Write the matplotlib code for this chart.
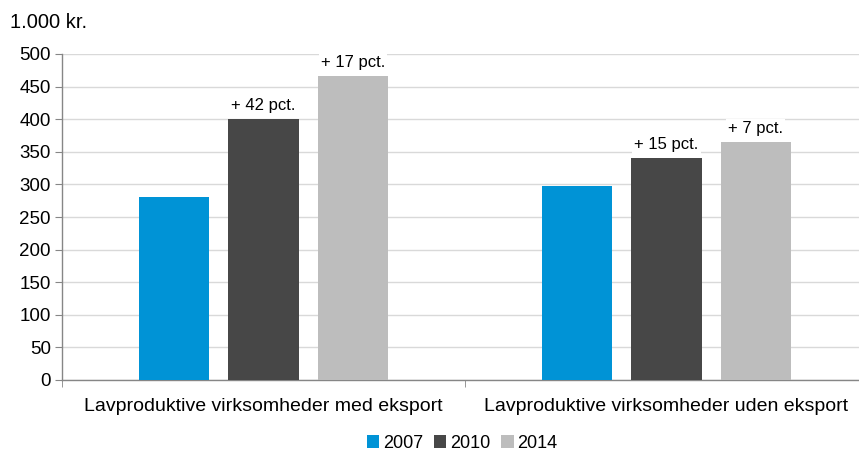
import matplotlib
matplotlib.use("Agg")
import matplotlib.pyplot as plt
import numpy as np

categories = ["Lavproduktive virksomheder med eksport",
              "Lavproduktive virksomheder uden eksport"]
years = ["2007", "2010", "2014"]
values = {
    "2007": [280, 297],
    "2010": [400, 341],
    "2014": [466, 365],
}
labels = {
    "2010": ["+ 42 pct.", "+ 15 pct."],
    "2014": ["+ 17 pct.", "+ 7 pct."],
}
colors = {"2007": "#0093D6", "2010": "#474747", "2014": "#BDBDBD"}

plt.rcParams["font.family"] = ["Liberation Sans", "DejaVu Sans"]

fig = plt.figure(figsize=(8.59, 4.57), dpi=100)
ax = fig.add_axes([62 / 859, 1 - 380 / 457, 806 / 859, 326 / 457])

x = np.arange(len(categories))
width = 0.174
step = 0.222
for i, year in enumerate(years):
    pos = x + (i - 1) * step
    ax.bar(pos, values[year], width, color=colors[year], label=year, zorder=3)
    if year in labels:
        for px, v, txt in zip(pos, values[year], labels[year]):
            ax.text(px, v + 9, txt, ha="center", va="bottom", fontsize=12,
                    color="#000000", zorder=4,
                    bbox=dict(facecolor="white", edgecolor="none", pad=1.5))

ax.set_xlim(-0.5, 1.5)
ax.set_ylim(0, 500)
ax.set_yticks(range(0, 501, 50))
ax.yaxis.grid(True, color="#D9D9D9", linewidth=1, zorder=0)
ax.set_axisbelow(True)

ax.set_xticks(x)
ax.set_xticklabels(categories, fontsize=14)
ax.tick_params(axis="x", length=0, pad=13)
ax.set_xticks([-0.5, 0.5, 1.5], minor=True)
ax.tick_params(axis="x", which="minor", length=5, color="#868686")
ax.tick_params(axis="y", labelsize=13.5, length=5, color="#868686", pad=3)

for side in ["top", "right"]:
    ax.spines[side].set_visible(False)
for side in ["left", "bottom"]:
    ax.spines[side].set_color("#868686")
    ax.spines[side].set_linewidth(1)

fig.text(10 / 859, 1 - 22 / 457, "1.000 kr.", fontsize=14.5, va="center", ha="left")

fig.legend(loc="center", bbox_to_anchor=(462 / 859, 1 - 443 / 457), ncol=3,
           frameon=False, fontsize=13, handlelength=0.7, handleheight=0.7,
           handletextpad=0.2, columnspacing=0.6)

fig.savefig("out.png", dpi=100)
